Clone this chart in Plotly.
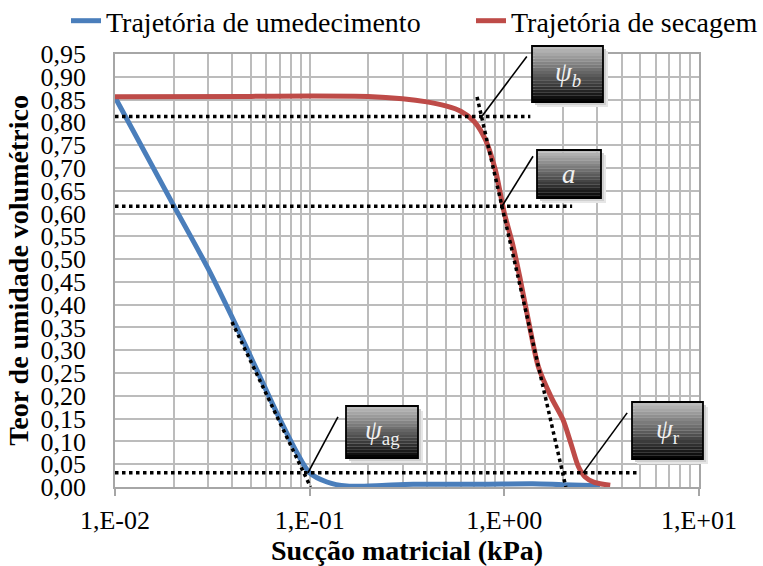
import plotly.graph_objects as go

# Curva característica: teor de umidade volumétrico x sucção matricial
WET_X = [0.01, 0.02, 0.03, 0.042, 0.0535, 0.0679, 0.0861, 0.1, 0.1227, 0.155,
         0.22, 0.34, 0.75, 1.4, 2.0, 3.1]
WET_Y = [0.855, 0.618, 0.48, 0.353, 0.257, 0.162, 0.075, 0.031, 0.011, 0.002,
         0.003, 0.006, 0.006, 0.007, 0.005, 0.003]

DRY_X = [0.01, 0.05, 0.1, 0.2, 0.3, 0.4, 0.5, 0.6, 0.7, 0.8, 0.9, 1.0, 1.1,
         1.2, 1.35, 1.5, 1.75, 2.0, 2.2, 2.4, 2.6, 2.9, 3.5]
DRY_Y = [0.856, 0.857, 0.858, 0.857, 0.852, 0.845, 0.836, 0.824, 0.802, 0.762,
         0.695, 0.601, 0.535, 0.461, 0.351, 0.262, 0.195, 0.148, 0.095, 0.045,
         0.022, 0.010, 0.004]

SERIES_NAMES = ["Trajetória de umedecimento", "Trajetória de secagem"]
X_TICKS = [0.01, 0.1, 1, 10]
X_TICK_TEXT = ["1,E-02", "1,E-01", "1,E+00", "1,E+01"]

# Construction lines (levels and tangents)
LEVEL_B = 0.813
LEVEL_A = 0.616
LEVEL_R = 0.031
LEVEL_B_END = 1.36
LEVEL_A_END = 2.23
LEVEL_R_END = 4.86
DRY_TANGENT_X = [0.724, 2.07]
DRY_TANGENT_Y = [0.856, 0.0]
WET_TANGENT_X = [0.0399, 0.101]
WET_TANGENT_Y = [0.362, 0.0]

# Marked points and their labels
POINT_LABELS = ["<i>ψ<sub>b</sub></i>", "<i>a</i>", "<i>ψ</i><sub>ag</sub>", "<i>ψ</i><sub>r</sub>"]
POINT_X = [0.766, 0.973, 0.098, 2.54]
POINT_Y = [LEVEL_B, LEVEL_A, LEVEL_R, LEVEL_R]

FONT = "Liberation Serif"
BLUE = "#4A7EBB"
RED = "#BE4B48"
GRID = "#bcbcbc"

W, H = 763, 566
ML, MR, MT, MB = 115, 64, 54, 79
PW, PH = W - ML - MR, H - MT - MB


def px(x):
    return (x - ML) / PW


def py(y):
    return (H - MB - y) / PH


fig = go.Figure()
fig.add_trace(go.Scatter(x=WET_X, y=WET_Y, mode="lines", name=SERIES_NAMES[0], legend="legend",
                         line=dict(color=BLUE, width=5, shape="spline", smoothing=0.8)))
fig.add_trace(go.Scatter(x=DRY_X, y=DRY_Y, mode="lines", name=SERIES_NAMES[1], legend="legend2",
                         line=dict(color=RED, width=5, shape="spline", smoothing=0.8)))

shapes = []
dot = dict(color="black", width=3.5, dash="dot")
for lvl, end in [(LEVEL_B, LEVEL_B_END), (LEVEL_A, LEVEL_A_END), (LEVEL_R, LEVEL_R_END)]:
    shapes.append(dict(type="line", xref="x", yref="y", x0=0.01, x1=end, y0=lvl, y1=lvl, line=dot))
shapes.append(dict(type="line", xref="x", yref="y", x0=DRY_TANGENT_X[0], x1=DRY_TANGENT_X[1],
                   y0=DRY_TANGENT_Y[0], y1=DRY_TANGENT_Y[1], line=dot))
shapes.append(dict(type="line", xref="x", yref="y", x0=WET_TANGENT_X[0], x1=WET_TANGENT_X[1],
                   y0=WET_TANGENT_Y[0], y1=WET_TANGENT_Y[1], line=dot))

# callout boxes (pixel boxes) with leader offsets in pixels from the marked point
boxes = [(532, 46, 603, 102), (537, 150, 601, 198), (346, 406, 418, 458), (632, 402, 703, 459)]
leaders = [(45, 60), (31, 50), (30, 56), (44, 60)]

annotations = []
for (l, t, r, b), (dx, dy), xv, yv, lab in zip(boxes, leaders, POINT_X, POINT_Y, POINT_LABELS):
    shapes.append(dict(type="line", xref="x", yref="y", xsizemode="pixel", ysizemode="pixel",
                       xanchor=xv, yanchor=yv, x0=0, y0=0, x1=dx, y1=dy,
                       line=dict(color="black", width=1.6)))
    # soft shadow
    for off, col in [(5, "#e6e6e6"), (3, "#cfcfcf")]:
        shapes.append(dict(type="rect", xref="paper", yref="paper", x0=px(l + off), x1=px(r + off),
                           y0=py(b + off), y1=py(t + off), line=dict(width=0), fillcolor=col))
    n = 18
    for i in range(n):
        f = i / (n - 1)
        g = int(round(0xbb * (1 - f) + 0x05 * f))
        col = f"rgb({g},{g},{g})"
        y0 = t + (b - t) * i / n
        y1 = t + (b - t) * (i + 1) / n
        shapes.append(dict(type="rect", xref="paper", yref="paper", x0=px(l), x1=px(r),
                           y0=py(y1), y1=py(y0), line=dict(width=0), fillcolor=col))
    shapes.append(dict(type="rect", xref="paper", yref="paper", x0=px(l), x1=px(r),
                       y0=py(b), y1=py(t), line=dict(color="black", width=1.8),
                       fillcolor="rgba(0,0,0,0)"))
    annotations.append(dict(xref="paper", yref="paper", x=px((l + r) / 2), y=py((t + b) / 2),
                            text=lab, showarrow=False, xanchor="center", yanchor="middle",
                            font=dict(family=FONT, size=27, color="#f0f0f0")))

legend_style = dict(orientation="h", xanchor="left", yanchor="middle",
                    font=dict(family=FONT, size=28, color="black"),
                    bgcolor="rgba(0,0,0,0)", itemwidth=30, tracegroupgap=0)

fig.update_layout(
    width=W, height=H,
    margin=dict(l=ML, r=MR, t=MT, b=MB, pad=0, autoexpand=False),
    paper_bgcolor="white", plot_bgcolor="white",
    separators=",.",
    font=dict(family=FONT, color="black"),
    shapes=shapes, annotations=annotations,
    showlegend=True,
    legend=dict(x=px(66), y=py(21), **legend_style),
    legend2=dict(x=px(471), y=py(21), **legend_style),
)
fig.update_xaxes(
    type="log", range=[-2, 1], automargin=False,
    tickmode="array", tickvals=X_TICKS, ticktext=X_TICK_TEXT,
    tickfont=dict(family=FONT, size=26, color="black"),
    ticks="outside", ticklen=7, tickwidth=1.5, tickcolor="#a6a6a6",
    showgrid=True, gridcolor=GRID, gridwidth=1.5,
    minor=dict(dtick="D1", showgrid=True, gridcolor=GRID, gridwidth=1.5, ticks=""),
    showline=True, linecolor="#a6a6a6", linewidth=1.5, mirror=True,
    zeroline=False, ticklabelstandoff=2,
    title=dict(text="<b>Sucção matricial (kPa)</b>", font=dict(family=FONT, size=28, color="black"),
               standoff=6),
)
fig.update_yaxes(
    range=[0, 0.95], dtick=0.05, tick0=0, tickformat=".2f", automargin=False,
    tickfont=dict(family=FONT, size=26, color="black"),
    ticks="",
    showgrid=True, gridcolor=GRID, gridwidth=1.5,
    showline=True, linecolor="#a6a6a6", linewidth=1.5, mirror=True,
    zeroline=False, ticklabelstandoff=22,
    title=dict(text="<b>Teor de umidade volumétrico</b>", font=dict(family=FONT, size=28, color="black"),
               standoff=4),
)

fig.write_html("out.html")
